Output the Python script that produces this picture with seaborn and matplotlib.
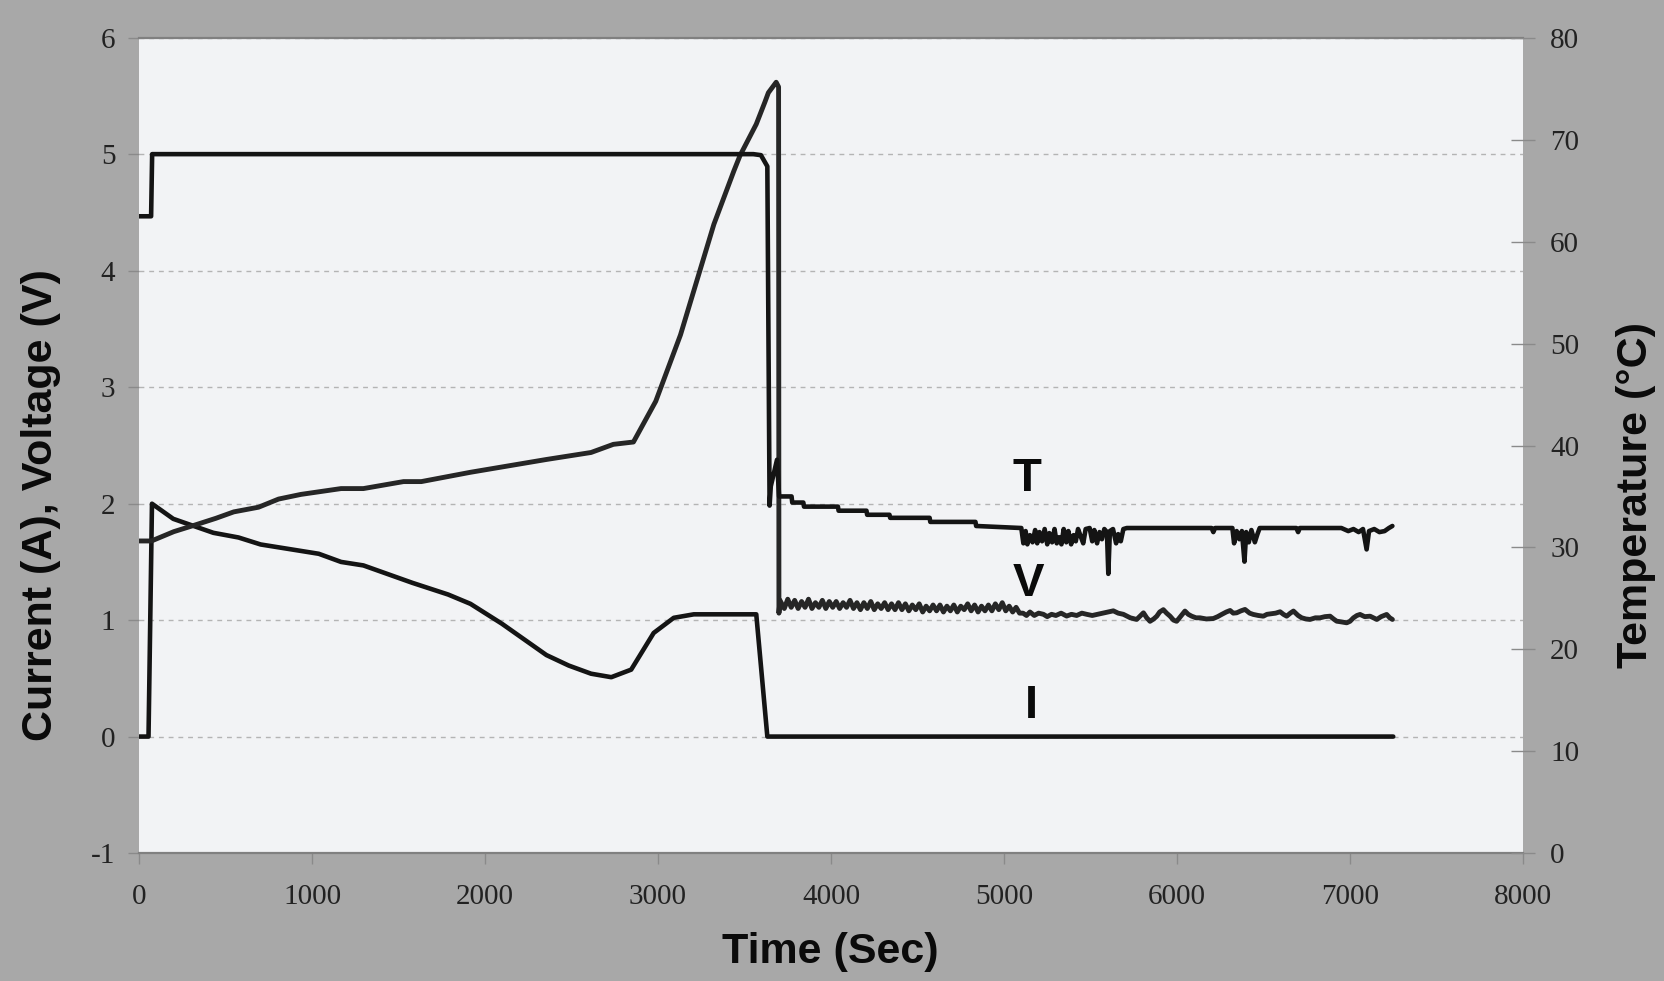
import matplotlib
matplotlib.use("Agg")
import matplotlib.pyplot as plt
from matplotlib import font_manager
import pandas as pd
import seaborn as sns

# ---------------- data ----------------
# Current I (A), left axis
I_time = [0, 55, 75, 198, 333, 430, 575, 703, 1039, 1168, 1297, 1581, 1787, 1916,
          2097, 2355, 2484, 2613, 2730, 2845, 2975, 3091, 3207, 3568, 3632, 7250]
I_amp = [0, 0, 2.0, 1.87, 1.80, 1.75, 1.71, 1.65, 1.57, 1.50, 1.47, 1.32, 1.22, 1.14,
         0.97, 0.70, 0.61, 0.54, 0.51, 0.575, 0.89, 1.02, 1.05, 1.05, 0, 0]

# Voltage V (V), left axis: rise to failure
V_time_rise = [0, 72, 201, 330, 445, 548, 691, 807, 936, 1168, 1297, 1529, 1632, 1916,
               2355, 2613, 2742, 2858, 2987, 3130, 3323, 3439, 3474, 3568, 3618, 3638,
               3683, 3697, 3699]
V_volt_rise = [1.68, 1.68, 1.76, 1.82, 1.875, 1.93, 1.97, 2.04, 2.08, 2.13, 2.13, 2.19,
               2.19, 2.27, 2.38, 2.44, 2.51, 2.53, 2.88, 3.45, 4.40, 4.86, 4.99, 5.26,
               5.45, 5.53, 5.62, 5.58, 1.06]
# Voltage after failure (noisy part)
V_time_post1 = [3705, 3730, 3750, 3770, 3790, 3810, 3830, 3850, 3870, 3890, 3910, 3930,
                3950, 3970, 3990, 4010, 4030, 4050, 4070, 4090, 4110, 4130, 4150, 4170,
                4190, 4210, 4230, 4250, 4270, 4290, 4310, 4330, 4350, 4370, 4390, 4410,
                4430, 4450, 4470, 4490, 4510, 4530, 4550, 4570, 4590, 4610, 4630, 4650,
                4670, 4690, 4710, 4730, 4750, 4770, 4790, 4810, 4830, 4850, 4870, 4890,
                4910, 4930, 4950, 4970, 4990, 5010, 5030, 5050, 5070, 5090]
V_volt_post1 = [1.17, 1.10, 1.18, 1.11, 1.17, 1.10, 1.16, 1.11, 1.18, 1.10,
                1.15, 1.11, 1.17, 1.10, 1.16, 1.11, 1.16, 1.10, 1.15, 1.11,
                1.17, 1.10, 1.15, 1.09, 1.15, 1.10, 1.16, 1.09, 1.14, 1.10,
                1.15, 1.09, 1.14, 1.09, 1.15, 1.09, 1.14, 1.08, 1.13, 1.09,
                1.14, 1.07, 1.12, 1.08, 1.13, 1.08, 1.13, 1.07, 1.12, 1.08,
                1.13, 1.07, 1.12, 1.09, 1.14, 1.08, 1.13, 1.07, 1.12, 1.08,
                1.13, 1.08, 1.14, 1.09, 1.15, 1.08, 1.12, 1.07, 1.11, 1.06]
V_time_post2 = [5110, 5130, 5150, 5175, 5200, 5228, 5250, 5275, 5300, 5330, 5362, 5390,
                5420, 5450, 5478, 5510, 5555, 5600, 5632, 5660, 5690, 5730, 5767, 5790,
                5806, 5825, 5844, 5865, 5883, 5900, 5921, 5940, 5960, 5980, 5998, 6020,
                6046, 6065, 6085, 6110, 6133, 6170, 6210, 6235, 6258, 6285, 6307, 6325,
                6345, 6370, 6393, 6420, 6441, 6470, 6499, 6520, 6547, 6570, 6596, 6615,
                6634, 6655, 6673, 6700, 6721, 6745, 6769, 6800, 6827, 6855, 6885, 6905,
                6923, 6950, 6981, 7000, 7020, 7040, 7058, 7085, 7116, 7135, 7155, 7180,
                7212, 7230, 7245]
V_volt_post2 = [1.06, 1.04, 1.07, 1.04, 1.06, 1.05, 1.03, 1.05, 1.04, 1.06, 1.035, 1.05,
                1.04, 1.06, 1.05, 1.04, 1.055, 1.07, 1.08, 1.06, 1.05, 1.02, 1.006, 1.04,
                1.063, 1.02, 0.99, 1.01, 1.034, 1.07, 1.09, 1.06, 1.034, 1.0, 0.99, 1.03,
                1.078, 1.05, 1.034, 1.02, 1.02, 1.01, 1.014, 1.03, 1.049, 1.07, 1.083, 1.06,
                1.063, 1.08, 1.092, 1.06, 1.049, 1.04, 1.034, 1.05, 1.055, 1.06, 1.072, 1.05,
                1.034, 1.06, 1.078, 1.04, 1.02, 1.01, 1.006, 1.02, 1.02, 1.03, 1.034, 1.01,
                0.991, 0.985, 0.977, 0.99, 1.02, 1.04, 1.049, 1.03, 1.034, 1.02, 1.006, 1.03,
                1.049, 1.02, 1.006]

# Temperature T (deg C), right axis
T_time = [0, 70, 76, 3551, 3595, 3632, 3645, 3652, 3688, 3700,
          3772, 3776, 3840, 3844, 4040, 4044, 4205, 4209, 4338, 4342,
          4570, 4574, 4835, 4839, 5100,
          5112, 5125, 5135, 5150, 5165, 5180, 5192, 5205, 5220, 5235,
          5250, 5262, 5278, 5292, 5305, 5318, 5332, 5345, 5360, 5372,
          5388, 5402, 5415, 5428, 5445, 5458, 5472, 5495, 5510, 5522,
          5538, 5552, 5566, 5580, 5595, 5603, 5612, 5630, 5648, 5660,
          5675, 5690, 5710, 6200, 6210,
          6220, 6320, 6330, 6345, 6360, 6375, 6390, 6400, 6415, 6430,
          6450, 6465, 6478, 6690, 6700, 6710, 6950, 6990, 7020, 7050,
          7075, 7096, 7110, 7140, 7170, 7200, 7225, 7245]
T_degc = [62.5, 62.5, 68.6, 68.6, 68.5, 67.4, 34.1, 36.0, 38.6, 35.0,
          35.0, 34.4, 34.4, 34.0, 34.0, 33.6, 33.6, 33.2, 33.2, 32.9,
          32.9, 32.5, 32.5, 32.1, 31.9,
          30.4, 31.6, 30.3, 31.2, 30.5, 31.7, 30.4, 31.5, 30.6, 31.8,
          30.3, 31.4, 30.5, 31.8, 30.4, 31.0, 30.3, 31.8, 30.5, 31.6,
          30.3, 31.2, 30.6, 31.8, 31.0, 30.4, 31.8, 31.9, 30.6, 31.7,
          30.4, 31.5, 30.8, 31.8, 31.5, 27.4, 31.6, 31.8, 30.4, 31.3,
          30.6, 31.8, 31.9, 31.9, 31.5,
          31.9, 31.9, 30.4, 31.6, 30.8, 31.6, 28.6, 31.5, 30.5, 31.7,
          30.5, 31.3, 31.9, 31.9, 31.5, 31.9, 31.9, 31.6, 31.8, 31.5,
          31.8, 29.8, 31.6, 31.8, 31.5, 31.6, 31.9, 32.1]

curve_labels = ["T", "V", "I"]
curve_label_pos = [(5133, 2.21), (5139, 1.31), (5160, 0.26)]

x_ticks = [0, 1000, 2000, 3000, 4000, 5000, 6000, 7000, 8000]
left_ticks = [-1, 0, 1, 2, 3, 4, 5, 6]
right_ticks = [0, 10, 20, 30, 40, 50, 60, 70, 80]

# ---------------- style ----------------
sns.set_theme(style="white")
plt.rcParams["font.family"] = ["Liberation Serif", "DejaVu Serif"]
plt.rcParams["axes.unicode_minus"] = False

names = {f.name for f in font_manager.fontManager.ttflist}
if "Liberation Sans Narrow" in names:
    lab_family, lab_size, mark_size = ["Liberation Sans Narrow", "Liberation Sans"], 36, 36
else:
    lab_family, lab_size, mark_size = ["Liberation Sans", "DejaVu Sans"], 31, 34

FIG_BG = "#a8a8a8"
AX_BG = "#f2f3f5"
LINE = "#141414"

fig = plt.figure(figsize=(16.64, 9.81), dpi=100, facecolor=FIG_BG)
ax = fig.add_axes([139 / 1664, 1 - 853 / 981, (1523 - 139) / 1664, (853 - 38) / 981])
ax.set_facecolor(AX_BG)
ax2 = ax.twinx()

dfI = pd.DataFrame({"t": I_time, "v": I_amp})
dfV = pd.DataFrame({"t": V_time_rise + V_time_post1 + V_time_post2,
                    "v": V_volt_rise + V_volt_post1 + V_volt_post2})
dfT = pd.DataFrame({"t": T_time, "v": T_degc})

sns.lineplot(data=dfI, x="t", y="v", ax=ax, color=LINE, lw=3.3, sort=False,
             estimator=None, legend=False)
sns.lineplot(data=dfV, x="t", y="v", ax=ax, color="#262626", lw=3.5, sort=False,
             estimator=None, legend=False)
sns.lineplot(data=dfT, x="t", y="v", ax=ax2, color=LINE, lw=3.3, sort=False,
             estimator=None, legend=False)

ax.set_xlim(0, 8000)
ax.set_ylim(-1, 6)
ax2.set_ylim(0, 80)

ax.set_xticks(x_ticks)
ax.set_xticklabels([str(v) for v in x_ticks])
ax.set_yticks(left_ticks)
ax.set_yticklabels([str(v) for v in left_ticks])
ax2.set_yticks(right_ticks)
ax2.set_yticklabels([str(v) for v in right_ticks])

ax.yaxis.grid(True, linestyle=(0, (3.5, 3.5)), color="#b4b4b4", lw=1.0)
ax.xaxis.grid(False)
ax2.grid(False)

for s in ["left", "right"]:
    ax.spines[s].set_visible(False)
for s in ["top", "bottom"]:
    ax.spines[s].set_visible(True)
    ax.spines[s].set_color("#808080")
    ax.spines[s].set_linewidth(1.6)
for s in ax2.spines.values():
    s.set_visible(False)

ax.tick_params(axis="x", bottom=True, direction="out", length=8, width=1,
               color="#8a8a8a", labelsize=21, pad=14, labelcolor="#222222")
ax.tick_params(axis="y", left=True, direction="out", length=8, width=1,
               color="#8a8a8a", labelsize=21, pad=9, labelcolor="#222222")
ax2.tick_params(axis="y", right=True, direction="inout", length=17, width=1,
                color="#8a8a8a", labelsize=21, pad=11, labelcolor="#222222")

lab_kw = dict(family=lab_family, fontweight="bold", fontsize=lab_size, color="#0a0a0a")
ax.set_xlabel("Time (Sec)", **lab_kw)
ax.xaxis.label.set_va("center")
ax.xaxis.set_label_coords(0.4993, -0.121)
ax.set_ylabel("Current (A), Voltage (V)", **lab_kw)
ax.yaxis.label.set_va("center")
ax.yaxis.set_label_coords(-0.0708, 0.427)
ax2.set_ylabel("Temperature (\u00b0C)", **lab_kw)
ax2.yaxis.label.set_va("center")
ax2.yaxis.set_label_coords(1.0817, 0.439)

for lab, (tx, ty) in zip(curve_labels, curve_label_pos):
    ax.text(tx, ty, lab, ha="center", va="center", family=lab_family,
            fontweight="bold", fontsize=mark_size, color="#0a0a0a")

fig.savefig("out.png", dpi=100, facecolor=FIG_BG)
